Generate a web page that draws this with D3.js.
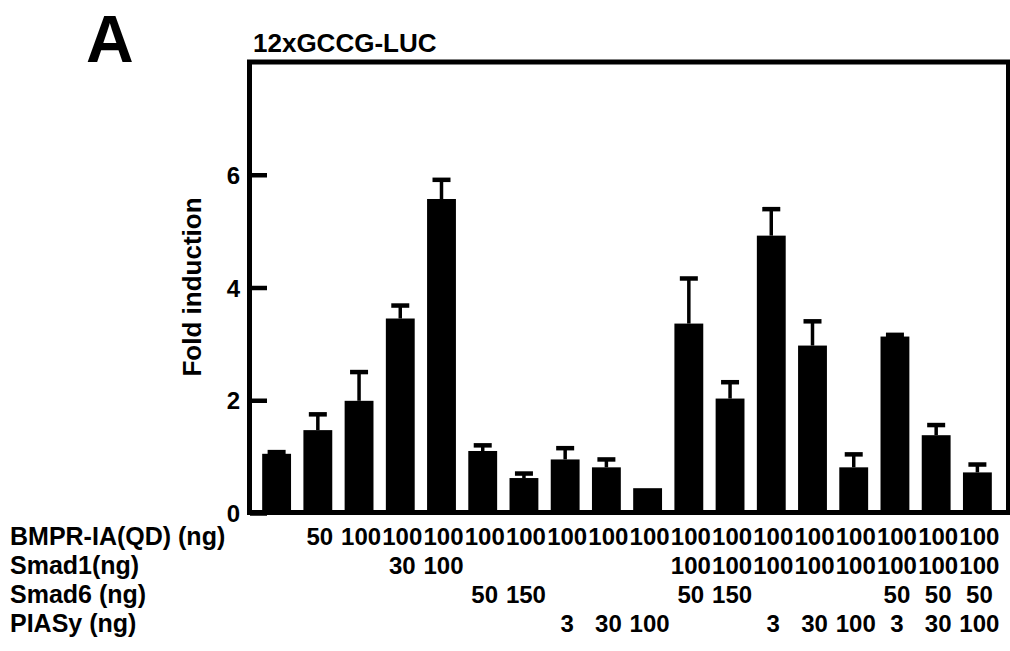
<!DOCTYPE html>
<html>
<head>
<meta charset="utf-8">
<script src="https://cdn.jsdelivr.net/npm/d3@7"></script>
<style>
  body { margin: 0; background: #fff; }
  text { font-family: "Liberation Sans", Arial, Helvetica, sans-serif; font-weight: bold; fill: #000; }
</style>
</head>
<body>
<div id="chartDiv"></div>
<script>
//////////
// DATA //
//////////

const lanes = d3.range(1, 19);
const foldValues = [1.05, 1.47, 1.99, 3.45, 5.57, 1.10, 0.62, 0.95, 0.81, 0.44,
                    3.36, 2.03, 4.92, 2.97, 0.81, 3.13, 1.38, 0.72];
const foldErrors = [0.03, 0.28, 0.51, 0.23, 0.34, 0.10, 0.08, 0.20, 0.14, 0,
                    0.80, 0.29, 0.47, 0.43, 0.23, 0.03, 0.18, 0.14];
const yTicks = [0, 2, 4, 6];

const rowNames = ["BMPR-IA(QD) (ng)", "Smad1(ng)", "Smad6 (ng)", "PIASy (ng)"];
const bmprDose  = ["", "50", "100", "100", "100", "100", "100", "100", "100", "100",
                   "100", "100", "100", "100", "100", "100", "100", "100"];
const smad1Dose = ["", "", "", "30", "100", "", "", "", "", "",
                   "100", "100", "100", "100", "100", "100", "100", "100"];
const smad6Dose = ["", "", "", "", "", "50", "150", "", "", "",
                   "50", "150", "", "", "", "50", "50", "50"];
const piasyDose = ["", "", "", "", "", "", "", "3", "30", "100",
                   "", "", "3", "30", "100", "3", "30", "100"];

const width = 1010, height = 651;
const margin = {top: 62, right: 2, bottom: 138, left: 250};

const svg = d3.select("#chartDiv").append("svg")
  .attr("width", width)
  .attr("height", height);

//////////
// AXES //
//////////

const x = d3.scaleBand()
  .domain(lanes)
  .range([256, 998])
  .paddingInner(0.3)
  .paddingOuter(0.15);

const y = d3.scaleLinear()
  .domain([0, 8])
  .range([513, 62]);

const yAxis = d3.axisLeft(y)
  .tickValues(yTicks)
  .tickSizeInner(-17)
  .tickSizeOuter(0)
  .tickPadding(10);

const gy = svg.append("g")
  .attr("class", "y_axis")
  .attr("transform", "translate(" + margin.left + ",0)")
  .call(yAxis);

gy.select(".domain").remove();
gy.selectAll(".tick line")
  .attr("stroke", "#000")
  .attr("stroke-width", 4.5);
gy.selectAll(".tick text")
  .style("font-size", "24px")
  .attr("dy", "0.36em");

//////////
// BARS //
//////////

const bars = svg.append("g").attr("id", "bars");

bars.selectAll("rect")
  .data(lanes)
  .enter().append("rect")
  .attr("x", (d) => x(d))
  .attr("width", x.bandwidth())
  .attr("y", (d, i) => y(foldValues[i]))
  .attr("height", (d, i) => y(0) - y(foldValues[i]))
  .attr("fill", "#000");

// error bars, upper half only
const errs = bars.selectAll(".err")
  .data(lanes.filter((d, i) => foldErrors[i] > 0))
  .enter().append("g")
  .attr("class", "err");

errs.append("line")
  .attr("x1", (d) => x(d) + x.bandwidth() / 2)
  .attr("x2", (d) => x(d) + x.bandwidth() / 2)
  .attr("y1", (d) => y(foldValues[d - 1]))
  .attr("y2", (d) => y(foldValues[d - 1] + foldErrors[d - 1]))
  .attr("stroke", "#000")
  .attr("stroke-width", 3.5);

errs.append("line")
  .attr("x1", (d) => x(d) + x.bandwidth() / 2 - 9)
  .attr("x2", (d) => x(d) + x.bandwidth() / 2 + 9)
  .attr("y1", (d) => y(foldValues[d - 1] + foldErrors[d - 1]))
  .attr("y2", (d) => y(foldValues[d - 1] + foldErrors[d - 1]))
  .attr("stroke", "#000")
  .attr("stroke-width", 4.5);

///////////
// FRAME //
///////////

svg.append("rect")
  .attr("x", 249.5)
  .attr("y", 62)
  .attr("width", 759)
  .attr("height", 450.5)
  .attr("fill", "none")
  .attr("stroke", "#000")
  .attr("stroke-width", 5);

////////////
// LABELS //
////////////

svg.append("text")
  .attr("x", 86)
  .attr("y", 62)
  .style("font-size", "66px")
  .text("A");

svg.append("text")
  .attr("x", 253)
  .attr("y", 52)
  .style("font-size", "26px")
  .text("12xGCCG-LUC");

svg.append("text")
  .attr("transform", "translate(201,287) rotate(-90)")
  .attr("text-anchor", "middle")
  .style("font-size", "26px")
  .text("Fold induction");

// dose table under the bars
const rowY = [545, 574, 603, 632];
const doseRows = [bmprDose, smad1Dose, smad6Dose, piasyDose];

svg.selectAll(".rowname")
  .data(rowNames)
  .enter().append("text")
  .attr("class", "rowname")
  .attr("x", 10)
  .attr("y", (d, i) => rowY[i])
  .style("font-size", "25px")
  .text((d) => d);

doseRows.forEach((row, r) => {
  svg.append("g")
    .selectAll("text")
    .data(lanes)
    .enter().append("text")
    .attr("x", (d) => x(d) + x.bandwidth() / 2 + 2)
    .attr("y", rowY[r])
    .attr("text-anchor", "middle")
    .style("font-size", "24px")
    .text((d, i) => row[i]);
});
</script>
</body>
</html>
